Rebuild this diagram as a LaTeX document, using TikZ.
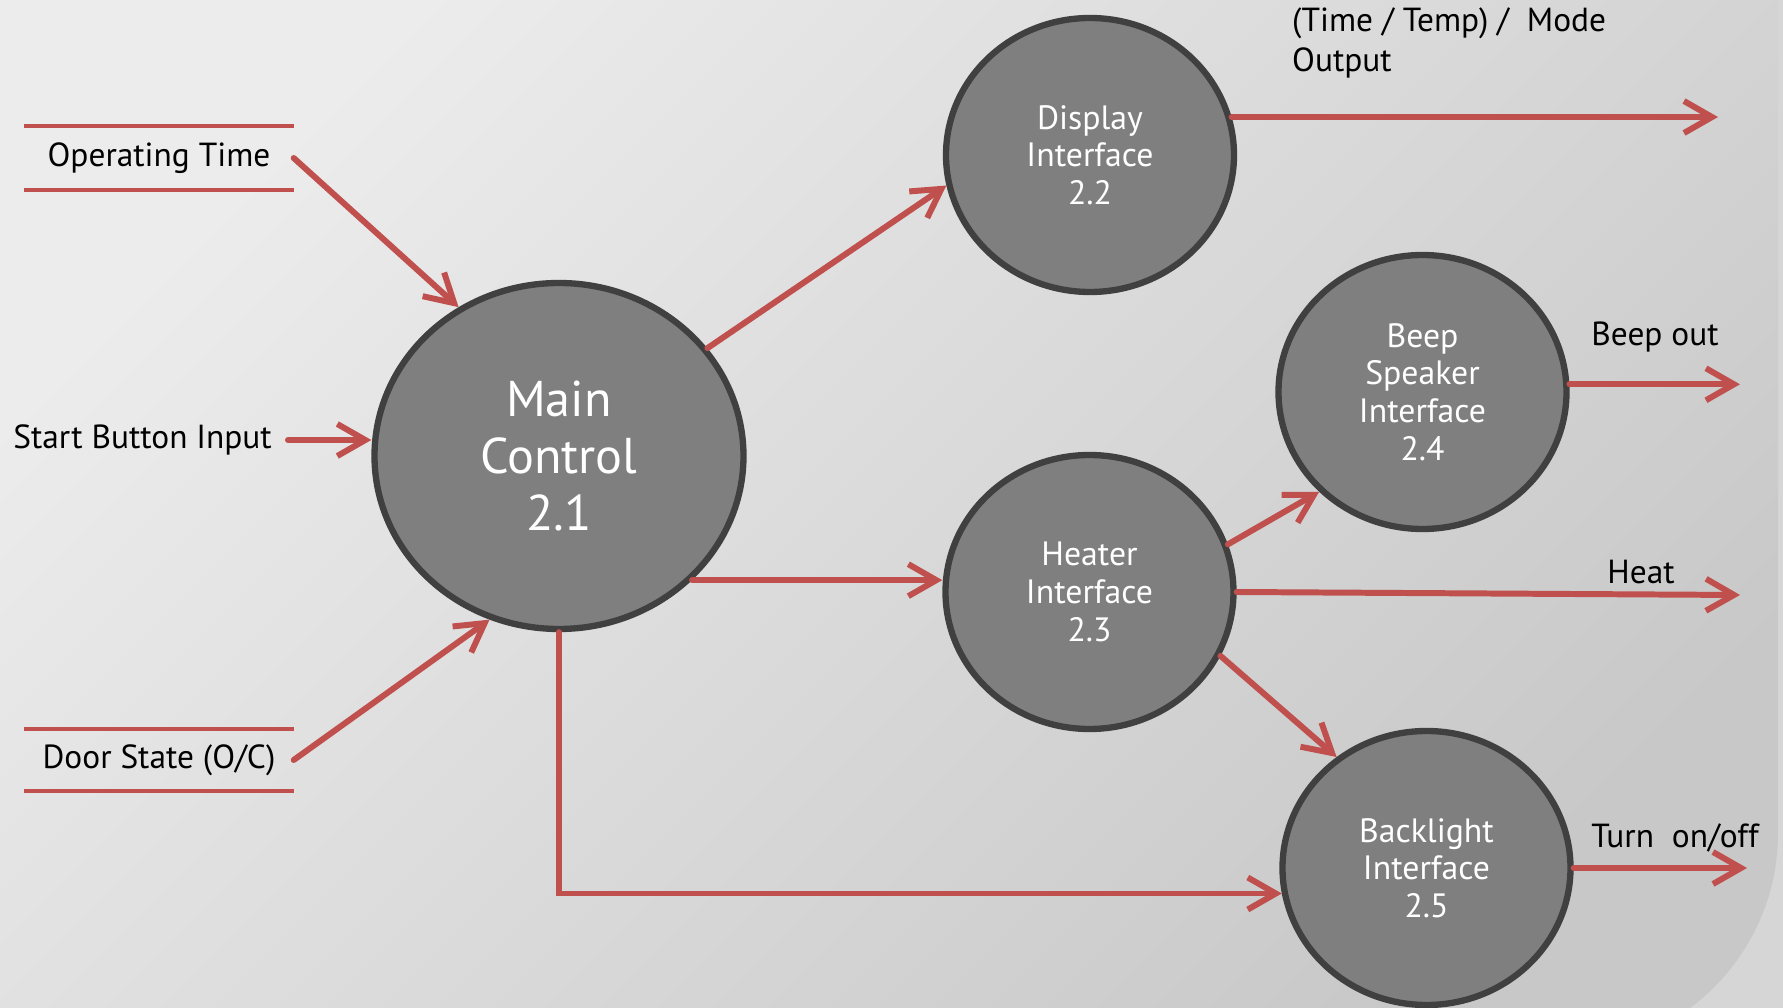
\documentclass[tikz,border=0pt]{standalone}
\usepackage{fontspec}
\setmainfont{PT Sans}
\usetikzlibrary{shapes.geometric,arrows.meta}

\definecolor{flowred}{RGB}{192,80,77}
\definecolor{bubblefill}{RGB}{127,127,127}
\definecolor{bubbleedge}{RGB}{64,64,64}
\definecolor{bglight}{RGB}{236,236,236}
\definecolor{bgdark}{RGB}{200,200,200}
\definecolor{bgout}{RGB}{214,214,214}

\begin{document}
\begin{tikzpicture}[
    bubble/.style={ellipse, draw=bubbleedge, fill=bubblefill, line width=1.8pt,
        inner sep=0pt, minimum width=2.88cm, minimum height=2.74cm,
        text=white, align=center, font=\fontsize{9.6}{10.7}\selectfont},
    lbl/.style={inner sep=1pt, font=\fontsize{9.5}{11.4}\selectfont},
    storeline/.style={draw=flowred, line width=1.1pt},
    flow/.style={draw=flowred, line width=1.7pt, line cap=round,
        -{Straight Barb[length=2.8mm,width=3.2mm]}}
]
%background with rounded corner at bottom right
    \clip (0,0) rectangle (17.83,-10.08);
    \fill[bgout] (0,0) rectangle (17.83,-10.08);
    \shade[top color=bglight, bottom color=bgdark, shading angle=45]
        (0,0) -- (17.78,0) -- (17.78,-8.33) arc[start angle=0, end angle=-90, radius=2.18]
        -- (0,-10.51) -- cycle;

%processes
    \node[bubble, minimum width=3.69cm, minimum height=3.46cm,
        font=\fontsize{14.3}{16.2}\selectfont] (main) at (5.59,-4.56) {Main\\Control\\2.1};
    \node[bubble] (disp) at (10.90,-1.55) {Display\\Interface\\2.2};
    \node[bubble] (heat) at (10.895,-5.92) {Heater\\Interface\\2.3};
    \node[bubble] (beep) at (14.225,-3.92) {Beep\\Speaker\\Interface\\2.4};
    \node[bubble] (back) at (14.265,-8.68) {Backlight\\Interface\\2.5};

%inputs
    \node[lbl, minimum width=2.68cm, minimum height=0.62cm] (optime) at (1.59,-1.58) {Operating Time};
    \node[lbl, anchor=east] (start) at (2.76,-4.40) {Start Button Input};
    \node[lbl, minimum width=2.68cm, minimum height=0.60cm] (door) at (1.59,-7.60) {Door State (O/C)};
    \foreach \s in {optime,door}
    {
        \draw[storeline] (\s.north west) -- (\s.north east);
        \draw[storeline] (\s.south west) -- (\s.south east);
    }

%outputs
    \node[lbl, anchor=west, align=left] (dispout) at (12.88,-0.43) {(Time / Temp) /\ \ Mode\\Output};
    \node[lbl] (beepout) at (16.55,-3.37) {Beep out};
    \node[lbl] (heatout) at (16.41,-5.72) {Heat};
    \node[lbl] (turnout) at (16.75,-8.38) {Turn\ \ on/off};
    \coordinate (dispend) at (17.18,-1.17);
    \coordinate (beepend) at (17.40,-3.84);
    \coordinate (heatend) at (17.40,-5.95);
    \coordinate (backend) at (17.47,-8.68);

%flows
    \draw[flow] (optime.east) -- (main.124);
    \draw[flow, shorten <=1.2mm] (start.east) -- (start.east -| main.west);
    \draw[flow] (door.east) -- (main.247);
    \draw[flow] (main.36) -- (disp.192);
    \draw[flow] (main.-43) -- (main.-43 -| heat.west);
    \draw[flow] (main.south) |- (back.190);
    \draw[flow] (disp.15) -- (disp.15 -| dispend);
    \draw[flow] (heat.19) -- (beep.224);
    \draw[flow] (heat.east) -- (heatend);
    \draw[flow] (heat.-26) -- (back.129);
    \draw[flow] (beep.3) -- (beep.3 -| beepend);
    \draw[flow] (back.east) -- (backend);
\end{tikzpicture}
\end{document}
